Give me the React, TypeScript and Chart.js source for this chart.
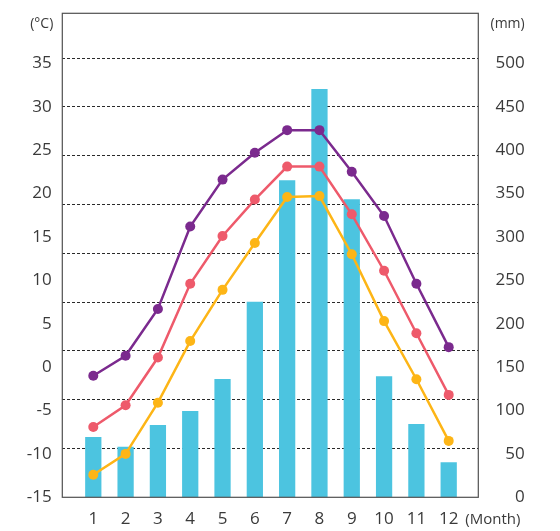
import React, { useEffect, useRef } from 'react';
import { Chart, registerables } from 'chart.js';

Chart.register(...registerables);

// ---- data ----
const months = [1, 2, 3, 4, 5, 6, 7, 8, 9, 10, 11, 12];
const precipitation = [69, 58, 83, 99, 136, 225, 365, 470, 343, 139, 84, 40];
const tempPurple = [-1.0, 1.3, 6.7, 16.2, 21.6, 24.7, 27.3, 27.3, 22.5, 17.4, 9.6, 2.3];
const tempRed = [-6.9, -4.4, 1.1, 9.6, 15.1, 19.3, 23.1, 23.1, 17.6, 11.1, 3.9, -3.2];
const tempYellow = [-12.4, -10.0, -4.1, 3.0, 8.9, 14.3, 19.6, 19.7, 13.0, 5.3, -1.4, -8.5];
const tempTicks = [-15, -10, -5, 0, 5, 10, 15, 20, 25, 30, 35];
const precipTicks = [0, 50, 100, 150, 200, 250, 300, 350, 400, 450, 500];
const gridLevels = [1, 2, 3, 4, 5, 6, 7, 8, 9];
const unitTemp = '(°C)';
const unitPrecip = '(mm)';
const unitMonth = '(Month)';

const FONT = 'Open Sans';
const TEXT = '#3a3a3a';

const framePlugin = {
  id: 'frame',
  afterDatasetsDraw(chart: any) {
    const { ctx, chartArea: a } = chart;
    ctx.save();
    ctx.strokeStyle = '#505050';
    ctx.lineWidth = 1.2;
    ctx.setLineDash([]);
    ctx.strokeRect(a.left, a.top, a.right - a.left, a.bottom - a.top);
    ctx.fillStyle = TEXT;
    ctx.font = `14px "${FONT}"`;
    ctx.textBaseline = 'middle';
    ctx.textAlign = 'right';
    ctx.fillText(unitTemp, a.left - 9, a.top + 11);
    ctx.fillText(unitPrecip, chart.scales.y1.right, a.top + 11);
    ctx.textAlign = 'left';
    ctx.font = `15px "${FONT}"`;
    ctx.fillText(unitMonth, a.right - 13, a.bottom + 22.5);
    ctx.restore();
  },
};

const zeroPad = (s: any) => {
  s.paddingTop = 0;
  s.paddingBottom = 0;
  s.paddingLeft = 0;
  s.paddingRight = 0;
};

export default function App() {
  const ref = useRef<HTMLCanvasElement>(null);

  useEffect(() => {
    if (!ref.current) return;
    const tickFont = { family: FONT, size: 17 };
    const pts = (vals: number[]) => months.map((m, i) => ({ x: m, y: vals[i] }));
    const lineDs = (vals: number[], color: string, order: number) => ({
      type: 'line' as const,
      data: pts(vals),
      xAxisID: 'x',
      yAxisID: 'y',
      borderColor: color,
      backgroundColor: color,
      borderWidth: 2.5,
      pointRadius: 5,
      pointBorderWidth: 0,
      pointBackgroundColor: color,
      tension: 0,
      order,
    });
    const chart = new Chart(ref.current, {
      type: 'bar',
      data: {
        datasets: [
          {
            type: 'bar',
            data: pts(precipitation),
            xAxisID: 'x',
            yAxisID: 'y1',
            backgroundColor: '#4cc4e0',
            borderWidth: 0,
            barThickness: 15.6,
            order: 10,
          } as any,
          lineDs(tempYellow, '#fdb516', 3),
          lineDs(tempRed, '#ee5a6b', 2),
          lineDs(tempPurple, '#7b2a8e', 1),
        ],
      },
      plugins: [framePlugin],
      options: {
        responsive: false,
        animation: false,
        devicePixelRatio: 1,
        layout: { padding: { top: 13.3, right: 35.3, left: 0, bottom: 0 } },
        plugins: { legend: { display: false }, tooltip: { enabled: false } },
        scales: {
          x: {
            type: 'linear',
            min: 0.041,
            max: 12.916,
            offset: false,
            afterBuildTicks: (s: any) => {
              s.ticks = months.map((v) => ({ value: v }));
            },
            afterFit: (s: any) => {
              s.height = 33.7;
              zeroPad(s);
            },
            grid: { display: false, drawTicks: false, offset: false },
            border: { display: false },
            ticks: { autoSkip: false, padding: 11.4, color: TEXT, font: tickFont, maxRotation: 0 },
          },
          y: {
            type: 'linear',
            position: 'left',
            min: -15,
            max: 40.76,
            afterBuildTicks: (s: any) => {
              s.ticks = tempTicks.map((v) => ({ value: v }));
            },
            afterFit: (s: any) => {
              s.width = 62.3;
              zeroPad(s);
            },
            grid: { display: false, drawTicks: false },
            border: { display: false },
            ticks: { padding: 10.6, color: TEXT, font: tickFont },
          },
          yg: {
            type: 'linear',
            position: 'left',
            min: 0,
            max: 9.918,
            afterBuildTicks: (s: any) => {
              s.ticks = gridLevels.map((v) => ({ value: v }));
            },
            afterFit: (s: any) => {
              s.width = 0;
              zeroPad(s);
            },
            grid: { color: '#2a2a2a', lineWidth: 1, drawTicks: false },
            border: { display: false, dash: [3, 2] },
            ticks: { display: false },
          },
          y1: {
            type: 'linear',
            position: 'right',
            min: 0,
            max: 557.6,
            afterBuildTicks: (s: any) => {
              s.ticks = precipTicks.map((v) => ({ value: v }));
            },
            afterFit: (s: any) => {
              s.width = 46.4;
              zeroPad(s);
            },
            grid: { display: false, drawTicks: false },
            border: { display: false },
            ticks: { crossAlign: 'far', color: TEXT, font: tickFont },
          },
        },
      } as any,
    });
    return () => chart.destroy();
  }, []);

  return (
    <canvas
      ref={ref}
      width={560}
      height={531}
      style={{ position: 'absolute', left: 0, top: 0, width: 560, height: 531 }}
    />
  );
}
